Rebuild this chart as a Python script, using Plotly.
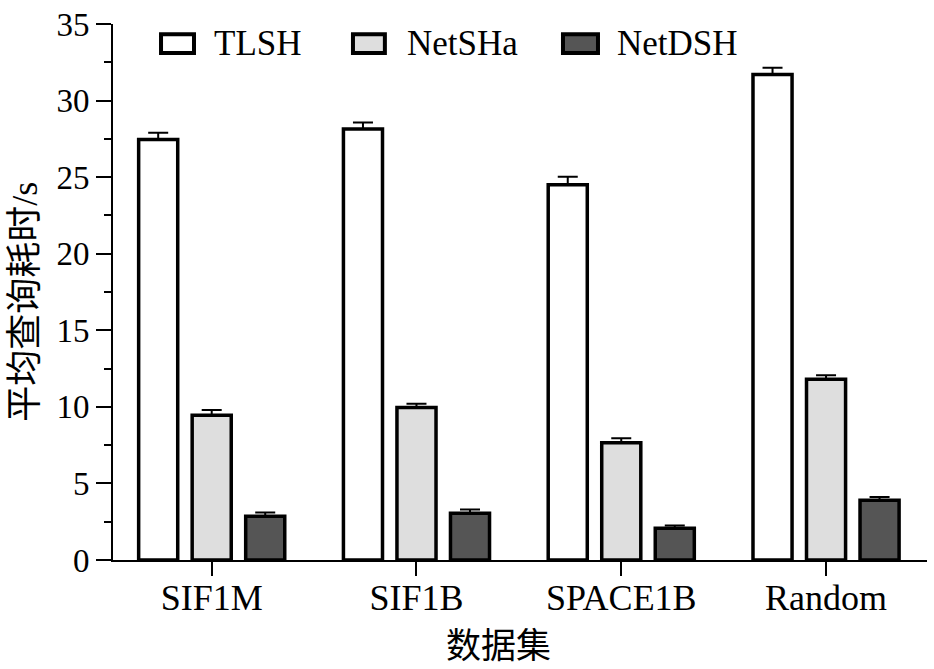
import plotly.graph_objects as go

categories = ["SIF1M", "SIF1B", "SPACE1B", "Random"]
series_names = ["TLSH", "NetSHa", "NetDSH"]
tlsh = [27.45, 28.15, 24.5, 31.7]
tlsh_err = [0.45, 0.42, 0.53, 0.45]
netsha = [9.45, 9.95, 7.65, 11.8]
netsha_err = [0.35, 0.25, 0.3, 0.26]
netdsh = [2.85, 3.05, 2.08, 3.9]
netdsh_err = [0.25, 0.25, 0.18, 0.22]
colors = ["#FFFFFF", "#DEDEDE", "#555555"]
y_ticks = [0, 5, 10, 15, 20, 25, 30, 35]

values = [tlsh, netsha, netdsh]
errors = [tlsh_err, netsha_err, netdsh_err]

SERIF = "Liberation Serif, Times New Roman, Noto Sans CJK SC, serif"
CJK = "Liberation Serif, Noto Sans CJK SC, sans-serif"

fig = go.Figure()
for name, vals, errs, col in zip(series_names, values, errors, colors):
    fig.add_trace(go.Bar(
        x=categories, y=vals, name=name,
        marker=dict(color=col, line=dict(color="black", width=3.5)),
        error_y=dict(type="data", array=errs, arrayminus=[0] * len(errs),
                     symmetric=False, color="black", thickness=2, width=10),
        showlegend=False,
    ))

# custom legend (boxes + labels) in paper coordinates
legend_box_x = [(0.059, 0.0995), (0.2948, 0.334), (0.5528, 0.5958)]
legend_text_x = [0.1213, 0.3587, 0.6167]
shapes = []
annotations = []
for (x0, x1), tx, name, col in zip(legend_box_x, legend_text_x, series_names, colors):
    shapes.append(dict(type="rect", xref="paper", yref="paper",
                       x0=x0, x1=x1, y0=0.946, y1=0.981,
                       fillcolor=col, line=dict(color="black", width=4)))
    annotations.append(dict(text=name, xref="paper", yref="paper", x=tx, y=0.9635,
                            xanchor="left", yanchor="middle", showarrow=False,
                            font=dict(family=SERIF, size=35, color="black")))

annotations.append(dict(text="数据集", xref="paper", yref="paper", x=0.473, y=-0.162,
                        xanchor="center", yanchor="middle", showarrow=False,
                        font=dict(family=CJK, size=35, color="black")))
annotations.append(dict(text="平均查询耗时/s", xref="paper", yref="paper", x=-0.108, y=0.482,
                        xanchor="center", yanchor="middle", showarrow=False, textangle=-90,
                        font=dict(family=CJK, size=36, color="black")))

fig.update_layout(
    width=934, height=669,
    margin=dict(l=113, r=7, t=21, b=109),
    paper_bgcolor="white", plot_bgcolor="white",
    barmode="group", bargap=0.216, bargroupgap=0.27,
    shapes=shapes, annotations=annotations,
    xaxis=dict(range=[-0.482, 3.493], showline=True, linecolor="black", linewidth=2,
               ticks="outside", ticklen=14, tickwidth=2, tickcolor="black",
               ticklabelstandoff=-9,
               tickfont=dict(family=SERIF, size=36, color="black"),
               showgrid=False, zeroline=False),
    yaxis=dict(range=[0, 35], tickvals=y_ticks, showline=True, linecolor="black", linewidth=2,
               ticks="outside", ticklen=15, tickwidth=2, tickcolor="black",
               tickfont=dict(family=SERIF, size=33, color="black"),
               minor=dict(dtick=2.5, ticks="outside", ticklen=7, tickwidth=2, tickcolor="black"),
               showgrid=False, zeroline=False),
)

fig.write_html("out.html")
